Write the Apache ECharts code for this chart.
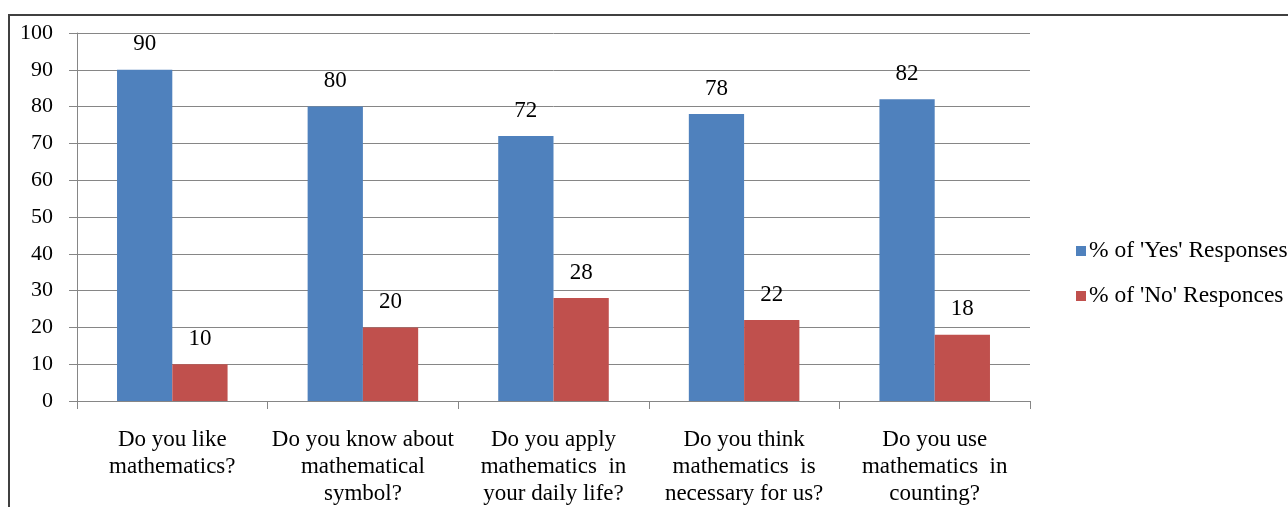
<!DOCTYPE html>
<html>
<head>
<meta charset="utf-8">
<script src="https://cdn.jsdelivr.net/npm/echarts@6/dist/echarts.min.js"></script>
<style>
  html, body { margin: 0; padding: 0; background: #fff; }
  #chart { width: 1288px; height: 507px; }
</style>
</head>
<body>
<div id="chart"></div>
<script>
let questions = [
  'Do you like\nmathematics?',
  'Do you know about\nmathematical\nsymbol?',
  'Do you apply\nmathematics  in\nyour daily life?',
  'Do you think\nmathematics  is\nnecessary for us?',
  'Do you use\nmathematics  in\ncounting?'
];
let yesValues = [90, 80, 72, 78, 82];
let noValues = [10, 20, 28, 22, 18];
let seriesNames = ["% of 'Yes' Responses", "% of 'No' Responces"];

var chartDom = document.getElementById('chart');
var chart = echarts.init(chartDom);

var serif = '"Liberation Serif", "Times New Roman", serif';
var axisGray = '#868686';

chartOption = {
    animation: false,
    textStyle: { fontFamily: serif, color: '#000' },
    graphic: [
      {
        // outer frame, runs past the right and bottom edges
        type: 'rect',
        shape: { x: 9, y: 15, width: 1400, height: 600 },
        style: { fill: 'none', stroke: '#404040', lineWidth: 2 },
        silent: true
      }
    ],
    grid: {
      left: 77,
      right: 258,
      top: 33,
      bottom: 106
    },
    legend: {
      orient: 'vertical',
      left: 1071,
      top: 234,
      itemWidth: 10,
      itemHeight: 10,
      itemGap: 21,
      icon: 'rect',
      textStyle: { fontFamily: serif, fontSize: 23.5, color: '#000', padding: [0, 0, 0, -2] },
      data: seriesNames
    },
    xAxis: {
      type: 'category',
      data: questions,
      axisLine: { lineStyle: { color: axisGray, width: 1 } },
      axisTick: { show: true, length: 8, lineStyle: { color: axisGray } },
      axisLabel: {
        interval: 0,
        margin: 25,
        fontFamily: serif,
        fontSize: 23,
        lineHeight: 27,
        color: '#000'
      }
    },
    yAxis: [
        {
          type: 'value',
          min: 0,
          max: 100,
          interval: 10,
          axisLine: { show: true, lineStyle: { color: axisGray, width: 1 } },
          axisTick: { show: true, length: 8, lineStyle: { color: axisGray } },
          splitLine: { lineStyle: { color: axisGray, width: 1 } },
          axisLabel: {
            margin: 24,
            fontFamily: serif,
            fontSize: 22,
            color: '#000'
          }
        }
    ],
    series: [
      {
        name: seriesNames[0],
        type: 'bar',
        data: yesValues,
        itemStyle: { color: '#4F81BD' },
        barGap: '0%',
        barCategoryGap: '42%',
        label: {
          show: true,
          position: 'top',
          distance: 14,
          fontFamily: serif,
          fontSize: 23,
          color: '#000'
        }
      },
      {
        name: seriesNames[1],
        type: 'bar',
        data: noValues,
        itemStyle: { color: '#C0504D' },
        barGap: '0%',
        barCategoryGap: '42%',
        label: {
          show: true,
          position: 'top',
          distance: 14,
          fontFamily: serif,
          fontSize: 23,
          color: '#000'
        }
      }
    ]
};

chart.setOption(chartOption);
</script>
</body>
</html>
